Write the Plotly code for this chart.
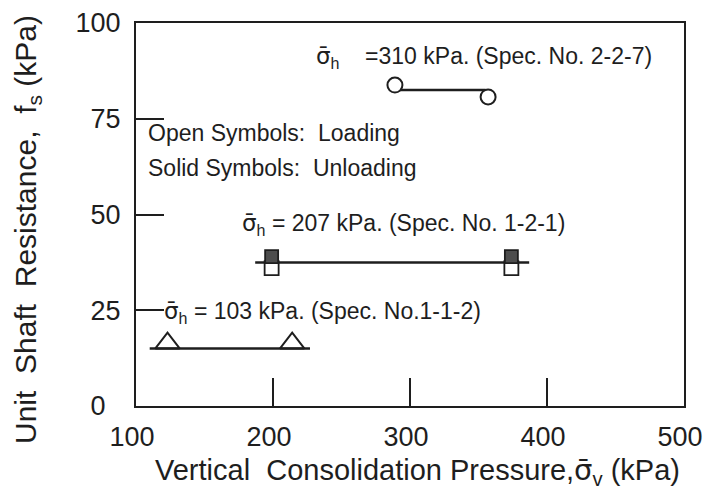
import plotly.graph_objects as go

# ---- data ----
tri_x = [123, 214]          # sigma_h = 103 kPa, loading (open triangles)
tri_y = [16.4, 16.4]
tri_line_x = [110, 227]
tri_line_y = [15, 15]

sq_open_x = [199, 374]      # sigma_h = 207 kPa, loading
sq_open_y = [36, 36]
sq_solid_x = [199, 374]     # sigma_h = 207 kPa, unloading
sq_solid_y = [39, 39]
sq_line_x = [187, 387]
sq_line_y = [37.5, 37.5]

circ_x = [289, 357]         # sigma_h = 310 kPa, loading
circ_y = [83.8, 80.7]
circ_line_x = [289, 355]
circ_line_y = [82.5, 82.5]

x_ticks = [100, 200, 300, 400, 500]
x_tick_text = ["100", "200", "300", "400", "500"]
y_ticks = [0, 25, 50, 75, 100]
y_tick_text = ["0\u00a0\u00a0", "25", "50", "75", "100"]

INK = "#1e1e1e"
FONT = "Liberation Sans, Arial, sans-serif"
SIG = '<span style="font-family:DejaVu Sans">\u03c3\u0304</span>'
NB = "\u00a0"

fig = go.Figure()

def line(xs, ys):
    fig.add_trace(go.Scatter(x=xs, y=ys, mode="lines",
                             line=dict(color=INK, width=2.5), showlegend=False,
                             hoverinfo="skip"))

line(tri_line_x, tri_line_y)
line(sq_line_x, sq_line_y)
line(circ_line_x, circ_line_y)

fig.add_trace(go.Scatter(x=tri_x, y=tri_y, mode="markers", showlegend=False,
                         marker=dict(symbol="triangle-up-open", size=21,
                                     color=INK, line=dict(width=2, color=INK))))
fig.add_trace(go.Scatter(x=sq_open_x, y=sq_open_y, mode="markers", showlegend=False,
                         marker=dict(symbol="square", size=14, color="white",
                                     line=dict(width=1.8, color=INK))))
fig.add_trace(go.Scatter(x=sq_solid_x, y=sq_solid_y, mode="markers", showlegend=False,
                         marker=dict(symbol="square", size=13, color="#4d4d4d",
                                     line=dict(width=1.8, color=INK))))
fig.add_trace(go.Scatter(x=circ_x, y=circ_y, mode="markers", showlegend=False,
                         marker=dict(symbol="circle", size=15, color="white",
                                     line=dict(width=2, color=INK))))

ann_font = dict(family=FONT, size=23, color=INK)
annotations = [
    dict(x=230, y=90.9, text=f"{SIG}<sub>h</sub>{NB*4}=310 kPa. (Spec. No. 2-2-7)"),
    dict(x=107.5, y=71.3, text=f"Open Symbols:{NB}{NB}Loading"),
    dict(x=107.5, y=62.1, text=f"Solid Symbols:{NB}{NB}Unloading"),
    dict(x=176, y=47.3, text=f"{SIG}<sub>h</sub> = 207 kPa. (Spec. No. 1-2-1)"),
    dict(x=119, y=24.3, text=f"{SIG}<sub>h</sub> = 103 kPa. (Spec. No.1-1-2)"),
]
for a in annotations:
    fig.add_annotation(xref="x", yref="y", xanchor="left", yanchor="middle",
                       showarrow=False, font=ann_font, **a)

# axis titles
fig.add_annotation(xref="paper", yref="paper", x=0.513, y=-0.172,
                   xanchor="center", yanchor="middle", showarrow=False,
                   text=f"Vertical{NB}{NB}Consolidation Pressure,{SIG}<sub>v</sub> (kPa)",
                   font=dict(family=FONT, size=29, color=INK))
fig.add_annotation(xref="paper", yref="paper", x=-0.199, y=0.462,
                   xanchor="center", yanchor="middle", showarrow=False, textangle=-90,
                   text=f"Unit{NB}{NB}Shaft{NB}{NB}Resistance,{NB}{NB}f<sub>s</sub>{NB}(kPa)",
                   font=dict(family=FONT, size=30, color=INK))

axis_common = dict(showgrid=False, zeroline=False, showline=True, linecolor=INK,
                   linewidth=2, mirror=True, ticks="inside", ticklen=28,
                   tickwidth=2, tickcolor=INK, automargin=False,
                   tickfont=dict(family=FONT, size=27, color=INK))
fig.update_xaxes(range=[100, 500], tickvals=x_ticks, ticktext=x_tick_text,
                 ticklabelshift=-4, ticklabelstandoff=6, **axis_common)
fig.update_yaxes(range=[0, 100], tickvals=y_ticks, ticktext=y_tick_text,
                 ticklabelstandoff=8, **axis_common)

fig.update_layout(width=705, height=490, plot_bgcolor="white", paper_bgcolor="white",
                  margin=dict(l=136, r=21, t=23, b=84), showlegend=False,
                  font=dict(family=FONT, color=INK))

fig.write_html("out.html", config={"displayModeBar": False},
               post_script="document.body.style.margin='0';document.body.style.overflow='hidden';")
